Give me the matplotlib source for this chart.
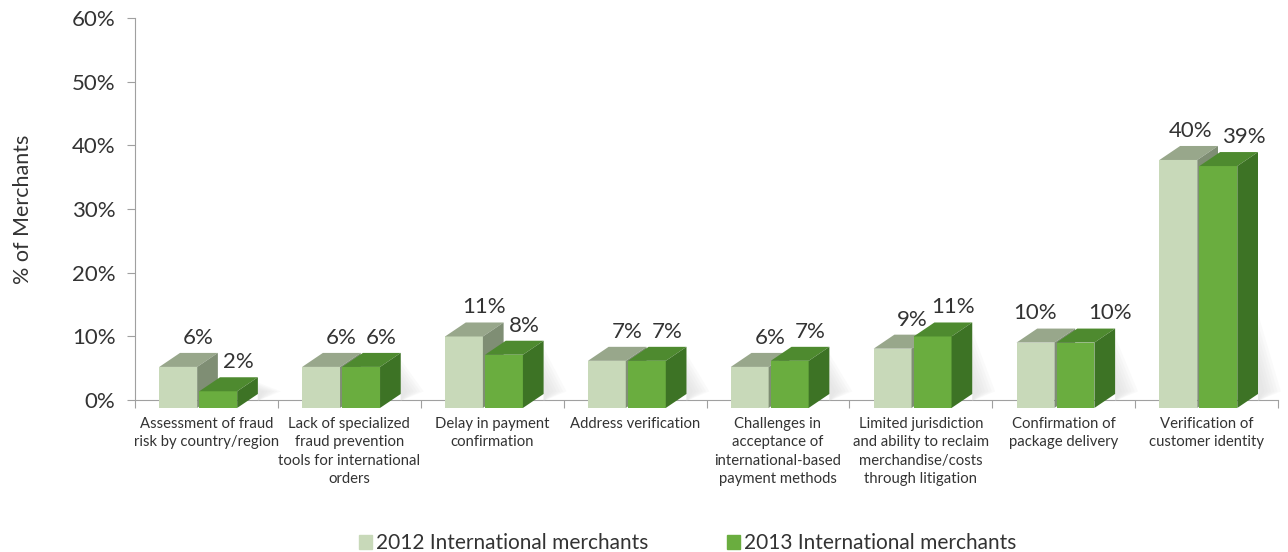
#!/usr/bin/env python3
"""
Fraud challenges for international orders, 2012 vs 2013.
Pseudo-3D clustered bar chart built from flat polygons.
"""

import matplotlib
matplotlib.use("Agg")
import matplotlib.pyplot as plt
import matplotlib.patches as mpatches
from matplotlib.patches import Polygon

plt.rcParams['font.family'] = ['Lato', 'DejaVu Sans']

CATEGORIES = [
    "Assessment of fraud\nrisk by country/region",
    "Lack of specialized\nfraud prevention\ntools for international\norders",
    "Delay in payment\nconfirmation",
    "Address verification",
    "Challenges in\nacceptance of\ninternational-based\npayment methods",
    "Limited jurisdiction\nand ability to reclaim\nmerchandise/costs\nthrough litigation",
    "Confirmation of\npackage delivery",
    "Verification of\ncustomer identity",
]
VALUES_2012 = [6, 6, 11, 7, 6, 9, 10, 40]
VALUES_2013 = [2, 6, 8, 7, 7, 11, 10, 39]
SERIES_LABELS = ["2012 International merchants", "2013 International merchants"]
Y_TICKS = [0, 10, 20, 30, 40, 50, 60]

# front / top / side shades per series
FACES_2012 = ('#c8d9b9', '#98a78b', '#7f8e74')
FACES_2013 = ('#6aad3f', '#4e8a2f', '#3d7325')

BAR_W = 0.265      # front face width (category units)
DX = 0.145         # depth offset, x
DY = 2.2           # depth offset, y (percent units)
BASE = 1.25        # front face sits this far below the floor line
PERSP = 0.956      # front face is drawn slightly shorter than the back plane
OFFSETS = (-0.33, -0.05)
TEXT = '#333333'
AXIS = '#a0a0a0'

# rough pixel scales, used only to keep value labels from colliding
PX_X = 1143 / 8
PX_Y = 382 / 60
LABEL_H = 16


def front_top(value):
    return PERSP * value - 0.54


def draw_shadow(ax, xr, value):
    # soft grey fall-off to the right of the last bar in a group
    h = min(value, 14) * 0.9
    for k in range(6):
        w = 0.16 * (1 - k / 7)
        ax.add_patch(Polygon([(xr, -BASE + DY * 0.5), (xr + w, -BASE + DY + 0.4),
                              (xr, -BASE + DY + h * (1 - k / 8))],
                             closed=True, facecolor='#d8d8d8', edgecolor='none',
                             alpha=0.12, clip_on=False, zorder=2.8))


def draw_bar(ax, x0, value, faces):
    front, top, side = faces
    y0 = -BASE
    y1 = front_top(value)
    x1 = x0 + BAR_W
    ax.add_patch(Polygon([(x0, y0), (x1, y0), (x1, y1), (x0, y1)],
                         closed=True, facecolor=front, edgecolor='none', clip_on=False, zorder=3))
    ax.add_patch(Polygon([(x0, y1), (x1, y1), (x1 + DX, y1 + DY), (x0 + DX, y1 + DY)],
                         closed=True, facecolor=top, edgecolor='none', clip_on=False, zorder=3))
    ax.add_patch(Polygon([(x1, y0), (x1 + DX, y0 + DY), (x1 + DX, y1 + DY), (x1, y1)],
                         closed=True, facecolor=side, edgecolor='none', clip_on=False, zorder=3))


def value_labels(ax, i, v_a, v_b):
    xa = i + 0.5 + OFFSETS[0] + BAR_W / 2 + DX * 0.97
    xb = i + 0.5 + OFFSETS[1] + BAR_W / 2 + DX * 0.97
    # push the pair apart when their boxes would overlap
    w = max(len(f"{v_a}%"), len(f"{v_b}%")) * 13
    dy_px = abs(v_a - v_b) * PX_Y
    overlap = max(0.0, 1 - dy_px / LABEL_H)
    if (xb - xa) * PX_X < w + 4 and overlap > 0:
        extra = 35 * overlap ** 2 / PX_X
        xa -= extra * 0.6
        xb += extra * 0.4
    for x, v in ((xa, v_a), (xb, v_b)):
        ax.text(x, front_top(v) + DY + 0.8, f"{v}%",
                ha='center', va='bottom', fontsize=16, color=TEXT, zorder=4)


def main():
    fig = plt.figure(figsize=(12.88, 5.52), dpi=100)
    ax = fig.add_axes([135 / 1288, 1 - 400 / 552, 1143 / 1288, 382 / 552])
    ax.set_xlim(0, len(CATEGORIES))
    ax.set_ylim(0, 60)

    for i in range(len(CATEGORIES)):
        draw_shadow(ax, i + 0.5 + OFFSETS[1] + BAR_W + DX, VALUES_2013[i])
        draw_bar(ax, i + 0.5 + OFFSETS[0], VALUES_2012[i], FACES_2012)
        draw_bar(ax, i + 0.5 + OFFSETS[1], VALUES_2013[i], FACES_2013)
        value_labels(ax, i, VALUES_2012[i], VALUES_2013[i])
        ax.text(i + 0.5, -2.6, CATEGORIES[i], ha='center', va='top',
                fontsize=10.7, color=TEXT, linespacing=1.42)

    for s in ('top', 'right'):
        ax.spines[s].set_visible(False)
    ax.spines['left'].set_color(AXIS)
    ax.spines['bottom'].set_color(AXIS)
    ax.set_yticks(Y_TICKS)
    ax.set_yticklabels([f"{t}%" for t in Y_TICKS], fontsize=16, color=TEXT)
    ax.tick_params(axis='y', length=6, color=AXIS, pad=8)
    ax.set_xticks(range(len(CATEGORIES) + 1))
    ax.set_xticklabels([])
    ax.tick_params(axis='x', length=6, color=AXIS, direction='out')
    ax.set_ylabel("% of Merchants", fontsize=15.5, color=TEXT, labelpad=28)

    handles = [mpatches.Patch(color=FACES_2012[0], label=SERIES_LABELS[0]),
               mpatches.Patch(color=FACES_2013[0], label=SERIES_LABELS[1])]
    fig.legend(handles=handles, loc='lower center', bbox_to_anchor=(0.534, -0.036), ncol=2,
               frameon=False, fontsize=15, handlelength=0.62, handleheight=0.62,
               handletextpad=0.2, columnspacing=3.8, labelcolor=TEXT)

    fig.savefig("out.png", dpi=100)


if __name__ == "__main__":
    main()
